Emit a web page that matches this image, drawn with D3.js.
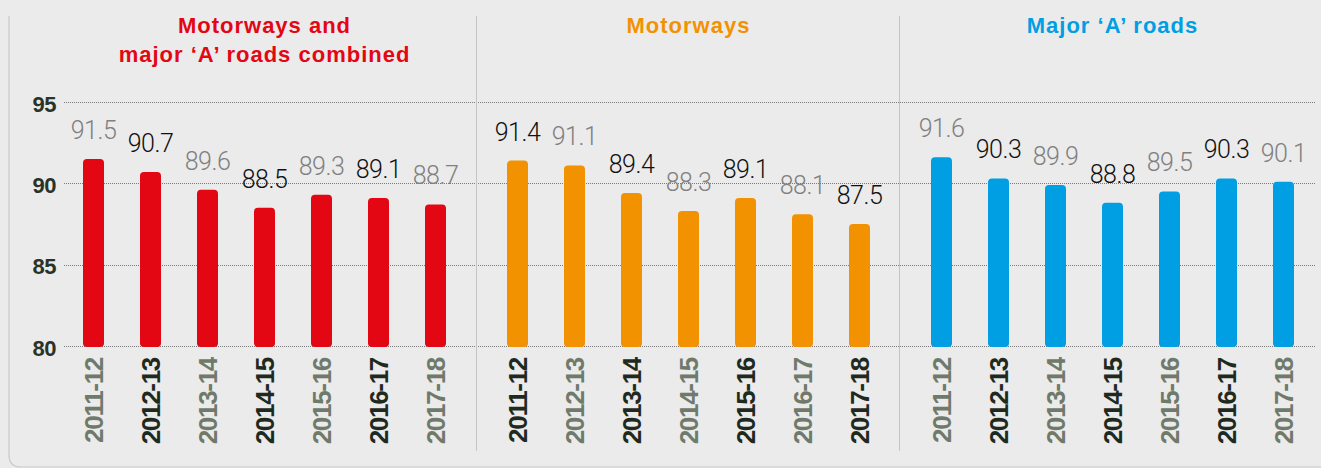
<!DOCTYPE html>
<html>
<head>
<meta charset="utf-8">
<script src="https://cdn.jsdelivr.net/npm/d3@7"></script>
<style>
  html, body { margin: 0; padding: 0; background: #ebebeb; }
  svg { display: block; }
  .title { font-family: "Liberation Sans", Arial, sans-serif; font-weight: bold; font-size: 22px; letter-spacing: 1px; }
  .value { font-family: Roboto, "Liberation Sans", sans-serif; font-weight: 300; font-size: 25px; letter-spacing: -0.5px; }
  .period { font-family: "Liberation Sans", Arial, sans-serif; font-weight: bold; font-size: 26px; letter-spacing: -1.3px; }
  .ytick { font-family: "Liberation Sans", Arial, sans-serif; font-weight: bold; font-size: 22px; letter-spacing: -0.5px; fill: #2a3328; }
</style>
</head>
<body>
<div id="chart"></div>
<script>
const periods = ["2011-12", "2012-13", "2013-14", "2014-15", "2015-16", "2016-17", "2017-18"];
const combined = [91.5, 90.7, 89.6, 88.5, 89.3, 89.1, 88.7];
const motorways = [91.4, 91.1, 89.4, 88.3, 89.1, 88.1, 87.5];
const majorA = [91.6, 90.3, 89.9, 88.8, 89.5, 90.3, 90.1];
const yTicks = [80, 85, 90, 95];
const panelTitles = [
  ["Motorways and", "major \u2018A\u2019 roads combined"],
  ["Motorways"],
  ["Major \u2018A\u2019 roads"],
];
const panelColours = ["#e30613", "#f39200", "#009fe3"];

const w = 1321;
const h = 468;

const panels = [combined, motorways, majorA].map(function (values, p) {
  return { title: panelTitles[p], colour: panelColours[p], values: values };
});

const svg = d3
  .select("#chart")
  .append("svg")
  .attr("width", w)
  .attr("height", h);

// outer frame (left + bottom, rounded corner)
svg
  .append("path")
  .attr("d", "M9,16 V455 Q9,467 21,467 H1321")
  .attr("fill", "none")
  .attr("stroke", "#c9c9c9")
  .attr("stroke-width", 1.2);

const yScale = d3.scaleLinear().domain([80, 95]).range([346, 102]);

// panel positions
const panelX = d3.scalePoint().domain([0, 1, 2]).range([264.5, 1112.5]);

// grid lines
const gridGroup = svg.append("g").attr("id", "grid");
gridGroup
  .selectAll("line")
  .data(yTicks)
  .enter()
  .append("line")
  .attr("x1", 64)
  .attr("x2", 1315)
  .attr("y1", function (d) { return Math.round(yScale(d)) + 0.5; })
  .attr("y2", function (d) { return Math.round(yScale(d)) + 0.5; })
  .attr("stroke", "#7a7a7a")
  .attr("stroke-width", 1)
  .attr("stroke-dasharray", "1,1");

const yAxis = d3.axisLeft(yScale).tickValues(yTicks).tickSize(0).tickPadding(0);
svg
  .append("g")
  .attr("transform", "translate(56,2)")
  .call(yAxis)
  .call(function (g) { g.select(".domain").remove(); })
  .selectAll("text")
  .attr("class", "ytick")
  .attr("fill", null);

// separators
svg
  .selectAll(".sep")
  .data([476.5, 899.5])
  .enter()
  .append("line")
  .attr("class", "sep")
  .attr("x1", function (d) { return d; })
  .attr("x2", function (d) { return d; })
  .attr("y1", 16)
  .attr("y2", 451)
  .attr("stroke", "#c4c4c4")
  .attr("stroke-width", 1);

panels.forEach(function (panel, p) {
  const cx = panelX(p);
  const xScale = d3
    .scaleBand()
    .domain(periods)
    .range([cx - 199.5, cx + 199.5])
    .paddingInner(36 / 57)
    .paddingOuter(18 / 57);

  const g = svg.append("g").attr("class", "panel");

  // title
  g.append("text")
    .attr("class", "title")
    .attr("text-anchor", "middle")
    .attr("fill", panel.colour)
    .selectAll("tspan")
    .data(panel.title)
    .enter()
    .append("tspan")
    .attr("x", cx)
    .attr("y", function (d, i) { return 33 + i * 29; })
    .text(function (d) { return d; });

  // bars
  g.selectAll("rect")
    .data(panel.values)
    .enter()
    .append("rect")
    .attr("x", function (d, i) { return xScale(periods[i]); })
    .attr("y", function (d) { return yScale(d); })
    .attr("width", xScale.bandwidth())
    .attr("height", function (d) { return yScale(80) - yScale(d) + 1; })
    .attr("rx", 4)
    .attr("fill", panel.colour);

  // value labels
  g.selectAll(".value")
    .data(panel.values)
    .enter()
    .append("text")
    .attr("class", "value")
    .attr("text-anchor", "middle")
    .attr("x", function (d, i) { return xScale(periods[i]) + xScale.bandwidth() / 2; })
    .attr("y", function (d) { return yScale(d) - 20; })
    .attr("fill", function (d, i) { return (p * 7 + i) % 2 === 0 ? "#808080" : "#111111"; })
    .text(function (d) { return d.toFixed(1); });

  // period labels
  g.selectAll(".period")
    .data(periods)
    .enter()
    .append("text")
    .attr("class", "period")
    .attr("text-anchor", "end")
    .attr("transform", function (d) {
      return "translate(" + (xScale(d) + xScale.bandwidth() / 2) + ",358) rotate(-90)";
    })
    .attr("dy", "0.36em")
    .attr("fill", function (d, i) { return (p * 7 + i) % 2 === 0 ? "#6f7a6b" : "#1f2a1f"; })
    .text(function (d) { return d; });
});
</script>
</body>
</html>
